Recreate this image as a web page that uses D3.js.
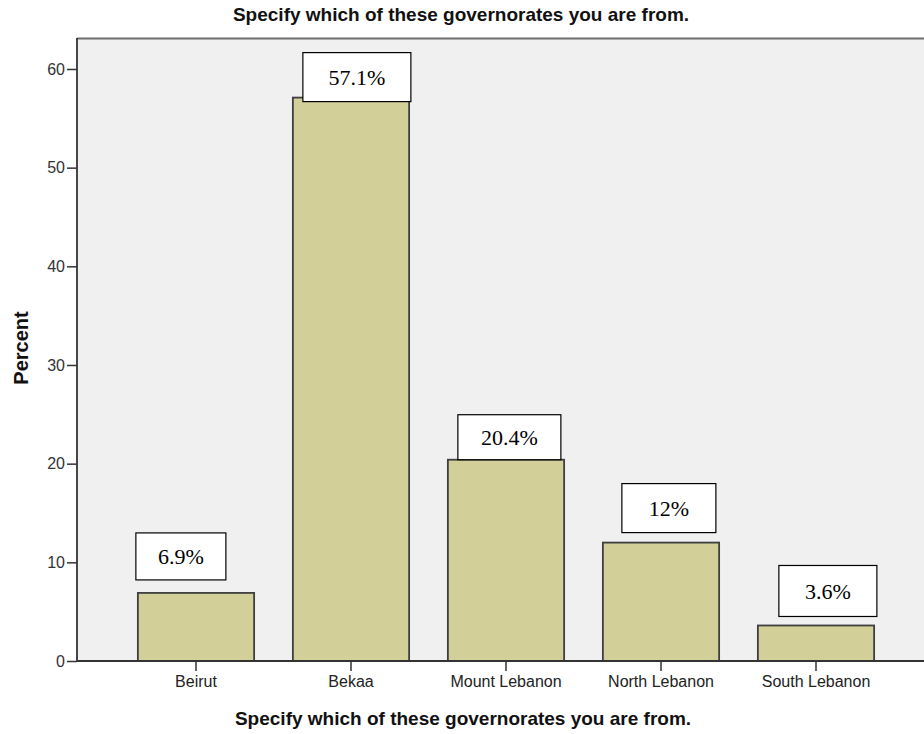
<!DOCTYPE html>
<html>
<head>
<meta charset="utf-8">
<script src="https://cdn.jsdelivr.net/npm/d3@7/dist/d3.min.js"></script>
<style>
  html, body { margin: 0; padding: 0; background: #ffffff; }
  svg { display: block; }
</style>
</head>
<body>
<svg id="chart" width="924" height="734"></svg>
<script>
// Governorate of respondents, percent of sample
const categories = ["Beirut", "Bekaa", "Mount Lebanon", "North Lebanon", "South Lebanon"];
const percents = [6.9, 57.1, 20.4, 12, 3.6];
const valueLabels = ["6.9%", "57.1%", "20.4%", "12%", "3.6%"];
const yTicks = [0, 10, 20, 30, 40, 50, 60];

// Callout box placement relative to each bar: [dx from bar left, width, bottom offset from bar top, height]
const calloutBoxes = [
  [-2, 90, -13, 47],
  [10, 108, 4, 49],
  [10, 103, 0, 45],
  [19, 94, -10, 49],
  [21, 98, -9, 51]
];

const titleText = "Specify which of these governorates you are from.";

const plot = { left: 77, top: 38, right: 924, bottom: 661 };
const sans = "'Liberation Sans', Arial, sans-serif";

const svg = d3.select("#chart");

const x = d3.scaleBand()
  .domain(categories)
  .range([118.5, 893.5])
  .paddingInner(0.25)
  .paddingOuter(0.125);

const y = d3.scaleLinear()
  .domain([0, 63.14])
  .range([plot.bottom, plot.top]);

// plot background
svg.append("rect")
  .attr("x", plot.left).attr("y", plot.top)
  .attr("width", plot.right - plot.left)
  .attr("height", plot.bottom - plot.top)
  .attr("fill", "#f0f0f0");

// top frame line
svg.append("line")
  .attr("x1", plot.left).attr("x2", plot.right)
  .attr("y1", plot.top + 0.5).attr("y2", plot.top + 0.5)
  .attr("stroke", "#6e6e6e").attr("stroke-width", 2);

// bars
svg.append("g").selectAll("rect")
  .data(categories)
  .join("rect")
  .attr("x", d => x(d))
  .attr("y", (d, i) => y(percents[i]))
  .attr("width", x.bandwidth())
  .attr("height", (d, i) => y(0) - y(percents[i]))
  .attr("fill", "#d3cf98")
  .attr("stroke", "#3f3f3f")
  .attr("stroke-width", 1.8);

// y axis
const yAxis = d3.axisLeft(y)
  .tickValues(yTicks)
  .tickSize(10)
  .tickPadding(2)
  .tickFormat(d3.format("d"));

const gy = svg.append("g")
  .attr("transform", `translate(${plot.left},0)`)
  .call(yAxis);
gy.select(".domain").remove();
gy.selectAll(".tick line").attr("stroke", "#333").attr("stroke-width", 1.5);
gy.selectAll(".tick text")
  .attr("font-family", sans)
  .attr("font-size", 16)
  .attr("fill", "#333");

svg.append("line")
  .attr("x1", plot.left).attr("x2", plot.left)
  .attr("y1", plot.top).attr("y2", plot.bottom)
  .attr("stroke", "#333").attr("stroke-width", 1.8);

// x axis
const xAxis = d3.axisBottom(x)
  .tickSize(10)
  .tickPadding(5);

const gx = svg.append("g")
  .attr("transform", `translate(0,${plot.bottom})`)
  .call(xAxis);
gx.select(".domain").remove();
gx.selectAll(".tick line").attr("stroke", "#333").attr("stroke-width", 1.5);
gx.selectAll(".tick text")
  .attr("font-family", sans)
  .attr("font-size", 16)
  .attr("fill", "#222");

svg.append("line")
  .attr("x1", plot.left).attr("x2", plot.right)
  .attr("y1", plot.bottom).attr("y2", plot.bottom)
  .attr("stroke", "#333").attr("stroke-width", 1.8);

// value callouts
const callouts = svg.append("g").selectAll("g")
  .data(categories)
  .join("g");

callouts.append("rect")
  .attr("x", (d, i) => x(d) + calloutBoxes[i][0])
  .attr("y", (d, i) => y(percents[i]) + calloutBoxes[i][2] - calloutBoxes[i][3])
  .attr("width", (d, i) => calloutBoxes[i][1])
  .attr("height", (d, i) => calloutBoxes[i][3])
  .attr("fill", "#ffffff")
  .attr("stroke", "#000")
  .attr("stroke-width", 1.2);

callouts.append("text")
  .attr("x", (d, i) => x(d) + calloutBoxes[i][0] + calloutBoxes[i][1] / 2)
  .attr("y", (d, i) => y(percents[i]) + calloutBoxes[i][2] - calloutBoxes[i][3] / 2)
  .attr("dy", "0.35em")
  .attr("text-anchor", "middle")
  .attr("font-family", "'Liberation Serif', 'Times New Roman', serif")
  .attr("font-size", 22)
  .attr("fill", "#000")
  .text((d, i) => valueLabels[i]);

// titles
svg.append("text")
  .attr("x", 461).attr("y", 21)
  .attr("text-anchor", "middle")
  .attr("font-family", sans)
  .attr("font-weight", "bold")
  .attr("font-size", 19)
  .attr("fill", "#111")
  .text(titleText);

svg.append("text")
  .attr("x", 463).attr("y", 725)
  .attr("text-anchor", "middle")
  .attr("font-family", sans)
  .attr("font-weight", "bold")
  .attr("font-size", 19)
  .attr("fill", "#111")
  .text(titleText);

svg.append("text")
  .attr("transform", "translate(28,348) rotate(-90)")
  .attr("text-anchor", "middle")
  .attr("font-family", sans)
  .attr("font-weight", "bold")
  .attr("font-size", 20)
  .attr("fill", "#111")
  .text("Percent");
</script>
</body>
</html>
